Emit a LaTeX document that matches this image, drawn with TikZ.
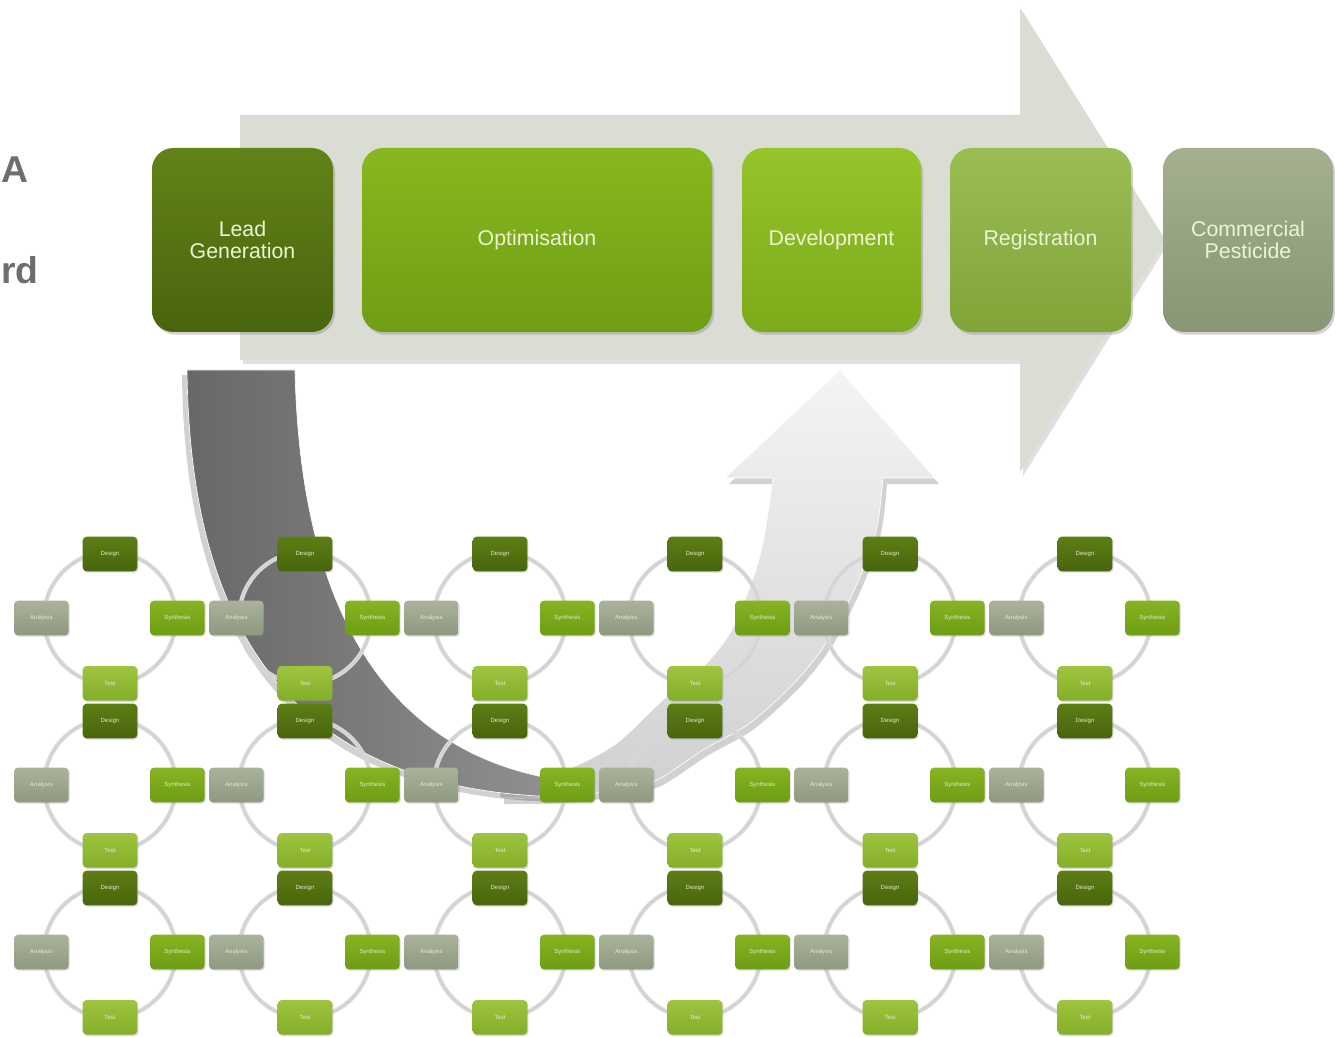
\documentclass[tikz,border=0pt]{standalone}
\usepackage{fontspec}
\setmainfont{Liberation Sans}
\usetikzlibrary{shadows}
\definecolor{bigarrow}{HTML}{D9DDD3}
\definecolor{lefttext}{HTML}{6D6E70}
\definecolor{stagetext}{HTML}{EAF5D2}
\definecolor{ctext}{HTML}{E2ECCB}
\definecolor{ringc}{HTML}{D9D9D9}
\definecolor{ringd}{HTML}{C2C2C2}
\begin{document}
\begin{tikzpicture}[x=0.75pt,y=-0.75pt]
\tikzset{
 stagebox/.style={rounded corners=16pt, minimum height=138pt, inner sep=0pt, align=center,
   text=stagetext, font=\fontsize{16}{17}\selectfont,
   drop shadow={opacity=0.35, shadow xshift=1.5pt, shadow yshift=-2pt}},
 cbox/.style={rounded corners=3pt, minimum width=41pt, minimum height=26pt, inner sep=0pt,
   text=ctext, font=\fontsize{4.5}{5}\selectfont,
   drop shadow={opacity=0.3, shadow xshift=0.8pt, shadow yshift=-1pt}},
 designbox/.style={cbox, top color={rgb,255:red,92;green,126;blue,20}, bottom color={rgb,255:red,72;green,100;blue,13}},
 synbox/.style={cbox, top color={rgb,255:red,134;green,180;blue,34}, bottom color={rgb,255:red,110;green,156;blue,20}},
 testbox/.style={cbox, top color={rgb,255:red,158;green,196;blue,64}, bottom color={rgb,255:red,132;green,174;blue,40}},
 anabox/.style={cbox, top color={rgb,255:red,170;green,178;blue,155}, bottom color={rgb,255:red,142;green,153;blue,128}},
 ringbase/.style={draw=ringc, line width=3.2pt},
 ringdots/.style={draw=ringd, line width=0.7pt, dash pattern=on 0.6pt off 1pt},
 lefttxt/.style={inner sep=0pt, text=lefttext, font=\fontsize{28}{34}\selectfont\bfseries},
}
\useasboundingbox (0,0) rectangle (1335,1037);

% left text
\node[lefttxt, anchor=base west] (tA) at (1,183) {A};
\node[lefttxt, anchor=base west] (tB) at (1,284) {rd};

% big process arrow
\fill[black, opacity=0.12] (243,119) -- (1023,119) -- (1023,12) -- (1168,244) -- (1023,476) -- (1023,364) -- (243,364) -- cycle;
\fill[bigarrow] (240,115) -- (1020,115) -- (1020,8) -- (1165,240) -- (1020,472) -- (1020,360) -- (240,360) -- cycle;

% stage boxes
\node[stagebox, minimum width=135.75pt, top color={rgb,255:red,98;green,131;blue,24}, bottom color={rgb,255:red,72;green,100;blue,14}] (lead) at (242.5,240) {Lead\\Generation};
\node[stagebox, minimum width=262.5pt, top color={rgb,255:red,136;green,183;blue,30}, bottom color={rgb,255:red,112;green,157;blue,20}] (opt) at (537,240) {Optimisation};
\node[stagebox, minimum width=134.25pt, top color={rgb,255:red,150;green,196;blue,42}, bottom color={rgb,255:red,124;green,170;blue,26}] (dev) at (831.5,240) {Development};
\node[stagebox, minimum width=135.75pt, top color={rgb,255:red,154;green,190;blue,84}, bottom color={rgb,255:red,128;green,164;blue,56}] (reg) at (1040.5,240) {Registration};
\node[stagebox, minimum width=127.5pt, top color={rgb,255:red,164;green,176;blue,144}, bottom color={rgb,255:red,136;green,150;blue,118}] (com) at (1248,240) {Commercial\\Pesticide};

% light curved arrow (shadow then body)
\fill[black, opacity=0.18, shift={(4,6)}]
  plot[smooth] coordinates {(500,798) (560,797) (617,790) (657,780) (703,750) (750,723) (797,680) (830,637) (860,577) (877,527) (883,478)}
  -- (935,478) -- (840,370) -- (725,478) -- (773,478)
  -- plot[smooth] coordinates {(773,478) (763,543) (750,587) (730,633) (703,667) (663,700) (617,743) (573,767) (530,780) (500,785)} -- cycle;
\path[top color={rgb,255:red,244;green,244;blue,244}, bottom color={rgb,255:red,208;green,208;blue,208}, draw=white, line width=0.5pt]
  plot[smooth] coordinates {(500,798) (560,797) (617,790) (657,780) (703,750) (750,723) (797,680) (830,637) (860,577) (877,527) (883,478)}
  -- (935,478) -- (840,370) -- (725,478) -- (773,478)
  -- plot[smooth] coordinates {(773,478) (763,543) (750,587) (730,633) (703,667) (663,700) (617,743) (573,767) (530,780) (500,785)} -- cycle;

% dark curved arrow (shadow then body)
\fill[black, opacity=0.18, shift={(-5,5)}]
  (187,370) .. controls (190,640) and (300,797) .. (575,797)
  -- (575,782) .. controls (380,760) and (300,600) .. (295,370) -- cycle;
\path[left color={rgb,255:red,104;green,104;blue,104}, right color={rgb,255:red,146;green,146;blue,146}, draw=white, line width=0.5pt]
  (187,370) .. controls (190,640) and (300,797) .. (575,797)
  -- (575,782) .. controls (380,760) and (300,600) .. (295,370) -- cycle;

% cycle rings
\foreach \i in {0,...,5}{
 \foreach \j in {0,1,2}{
  \pgfmathsetmacro\cx{110+195*\i}
  \pgfmathsetmacro\cy{618+167*\j}
  \coordinate (c\i\j) at (\cx,\cy);
  \draw[ringbase] (c\i\j) circle[radius=49.5pt];
  \draw[ringdots] (c\i\j) circle[radius=49.5pt];
 }
}
% cycle boxes
\foreach \i in {0,...,5}{
 \foreach \j in {0,1,2}{
  \node[designbox] (d\i\j) at ([yshift=48pt]c\i\j) {Design};
  \node[synbox] (s\i\j) at ([xshift=50.5pt]c\i\j) {Synthesis};
  \node[testbox] (t\i\j) at ([yshift=-49pt]c\i\j) {Test};
  \node[anabox] (a\i\j) at ([xshift=-51.5pt]c\i\j) {Analysis};
 }
}
\end{tikzpicture}
\end{document}
